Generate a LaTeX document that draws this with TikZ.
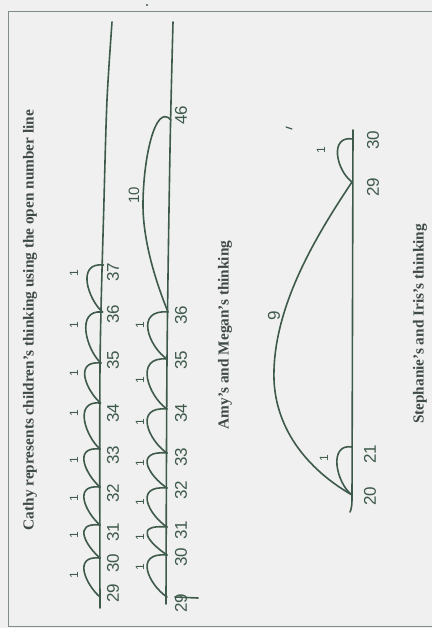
\documentclass[tikz,border=0pt]{standalone}
\usepackage{fontspec}
\setmainfont{Liberation Serif}
\newfontfamily\handfont{Liberation Sans}
\definecolor{inkc}{HTML}{3E5A4B}
\definecolor{titlec}{HTML}{3F4A45}
\definecolor{paperc}{HTML}{F0F0F0}
\definecolor{framec}{HTML}{7F8C8A}
\tikzset{
  ink/.style={draw=inkc, line width=1.6pt, line cap=round, line join=round},
  numlabel/.style={text=inkc, font=\handfont\fontsize{17}{17}\selectfont, rotate=90, inner sep=0pt},
  onelabel/.style={text=inkc, font=\handfont\fontsize{12}{12}\selectfont, rotate=90, inner sep=0pt},
  titlelabel/.style={text=titlec, font=\bfseries\fontsize{15.3}{15.3}\selectfont, rotate=90, inner sep=0pt},
}
\begin{document}
\begin{tikzpicture}[x=1pt,y=-1pt]
\useasboundingbox (0,0) rectangle (432,628);
\fill[paperc] (0,0) rectangle (432,628);
% frame
\draw[framec, line width=0.8pt] (432,11) -- (8,11) -- (8,626) -- (432,626);
\fill[inkc] (147,5) circle (1.1);
% titles
\node[titlelabel] (t1) at (30,320) {Cathy represents children's thinking using the open number line};
\node[titlelabel] (t2) at (225,335) {Amy's and Megan's thinking};
\node[titlelabel] (t3) at (420,324) {Stephanie's and Iris's thinking};

% ---------- line 1 ----------
\draw[ink] plot[smooth] coordinates {(100,608) (100,367) (104,200) (107,100) (112,22)};
\coordinate (a29) at (100,597);
\coordinate (a30) at (100,558);
\coordinate (a31) at (100,525);
\coordinate (a32) at (100,487);
\coordinate (a33) at (100,449);
\coordinate (a34) at (100.5,403);
\coordinate (a35) at (101,363);
\coordinate (a36) at (102.5,312);
\coordinate (a37) at (103.5,265);
\foreach \p/\q in {a29/a30,a30/a31,a31/a32,a32/a33,a33/a34,a34/a35,a35/a36,a36/a37}
  \draw[ink] (\p) .. controls +(-14,-12) and +(-28,-3) .. (\q);
\foreach \n/\y in {29/593,30/563,31/532,32/493,33/455,34/413,35/360,36/314,37/272}
  \node[numlabel] (la\n) at (113,\y) {\n};
\foreach \y [count=\i] in {575,535,498,460,413,373,325,273}
  \node[onelabel] (oa\i) at (74,\y) {1};

% ---------- line 2 ----------
\draw[ink] plot[smooth] coordinates {(166,604) (167,360) (170,150) (173,22)};
\coordinate (b29) at (167,597);
\coordinate (b30) at (167,555);
\coordinate (b31) at (167,527);
\coordinate (b32) at (167,488);
\coordinate (b33) at (167,453);
\coordinate (b34) at (167,409);
\coordinate (b35) at (167,359);
\coordinate (b36) at (168,312);
\coordinate (b46) at (171,120);
\foreach \p/\q in {b29/b30,b30/b31,b31/b32,b32/b33,b33/b34,b34/b35,b35/b36}
  \draw[ink] (\p) .. controls +(-18,-12) and +(-34,-3) .. (\q);
\draw[ink] (b36) .. controls (155,280) and (143,240) .. (143,205)
  .. controls (143,160) and (155,102) .. (b46);
\draw[ink] (175,597) -- (198,598);
\foreach \n/\y in {29/603,30/557,31/530,32/490,33/457,34/413,35/360,36/315,46/115}
  \node[numlabel] (lb\n) at (181,\y) {\n};
\foreach \y [count=\i] in {567,537,502,463,422,380,325}
  \node[onelabel] (ob\i) at (140,\y) {1};
\node[numlabel, font=\handfont\fontsize{15}{15}\selectfont] (lb10) at (134,195) {10};

% ---------- line 3 ----------
\draw[ink] (353,130) -- (352,500) .. controls (352,506) and (351,510) .. (350,512);
\coordinate (c29) at (352,182);
\coordinate (c30) at (353,139);
\coordinate (c20) at (352,495);
\coordinate (c21) at (352,447);
\draw[ink] (c29) .. controls +(-16,-12) and +(-24,-4) .. (c30);
\draw[ink] (c20) .. controls +(-16,-12) and +(-24,-4) .. (c21);
\draw[ink] (c20) .. controls (300,465) and (272,420) .. (274,370)
  .. controls (276,300) and (320,230) .. (c29);
\node[numlabel] (lc29) at (373,187) {29};
\node[numlabel] (lc30) at (373,140) {30};
\node[numlabel] (lc20) at (370,496) {20};
\node[numlabel] (lc21) at (370,454) {21};
\node[onelabel] (oc1) at (321,150) {1};
\node[onelabel] (oc2) at (324,458) {1};
\node[numlabel] (lc9) at (274,316) {9};
\draw[inkc, line width=1.2pt, line cap=round] (286,127) -- (292,129);
\end{tikzpicture}
\end{document}
